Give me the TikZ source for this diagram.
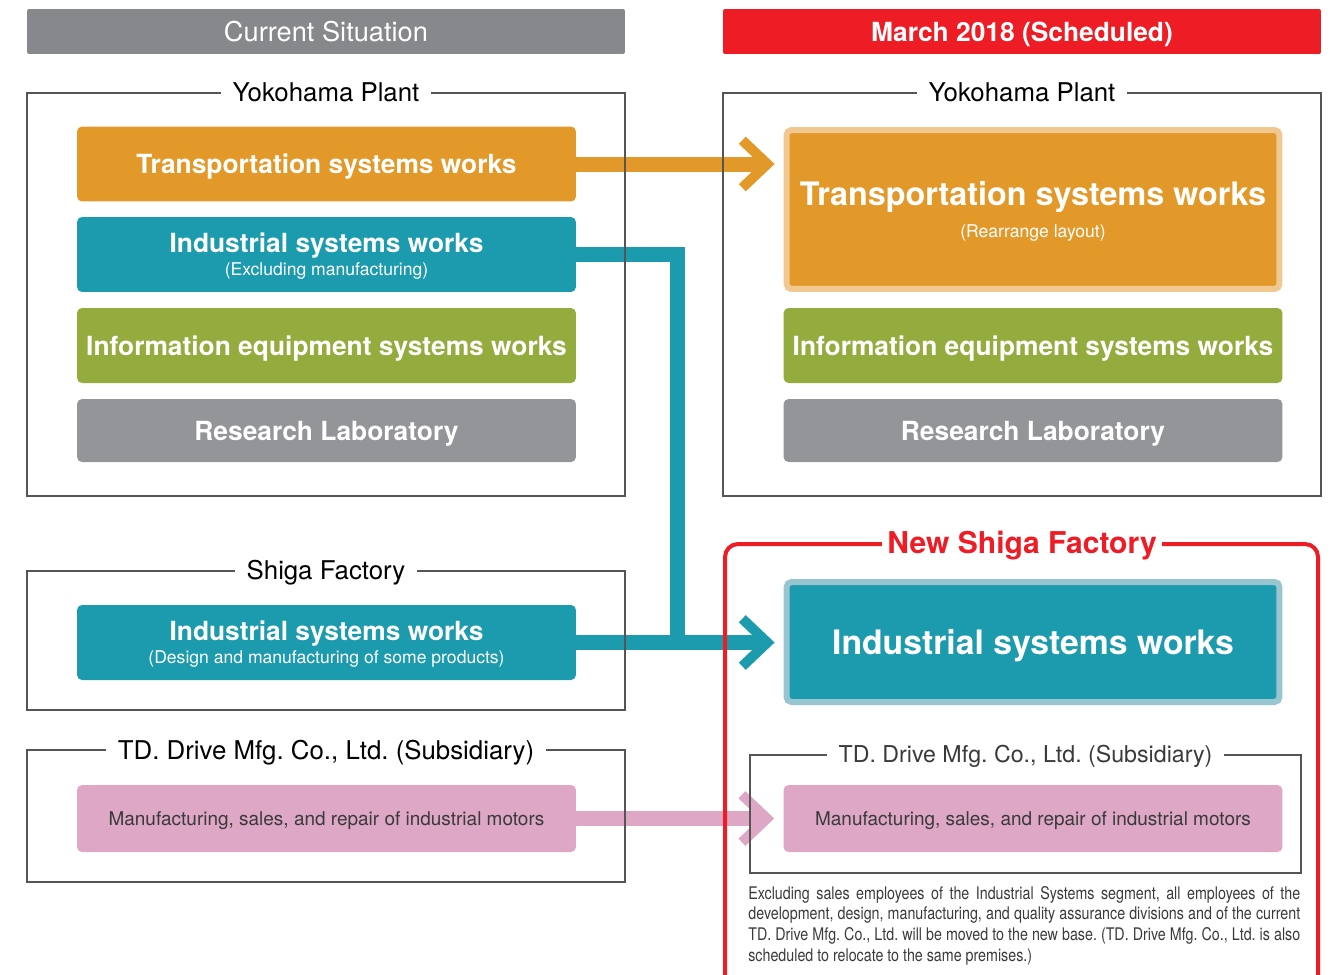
\documentclass[tikz,border=0pt]{standalone}
\usepackage{fontspec}
\setmainfont{TeX Gyre Heros}
\newfontfamily\notefont[FakeStretch=0.82]{TeX Gyre Heros}
\usetikzlibrary{arrows.meta}
\frenchspacing

\definecolor{hdgray}{HTML}{87888B}
\definecolor{hdred}{HTML}{EE1C25}
\definecolor{tsorange}{HTML}{E3992A}
\definecolor{tslight}{HTML}{F1C88F}
\definecolor{isteal}{HTML}{1C9BAE}
\definecolor{islight}{HTML}{98C5D0}
\definecolor{iegreen}{HTML}{94AB3E}
\definecolor{labgray}{HTML}{939598}
\definecolor{tdpink}{HTML}{DDA7C5}
\definecolor{framegray}{HTML}{555555}
\definecolor{darktext}{HTML}{3A3A3A}

\newcommand{\unitnote}[1]{{\fontsize{10}{12}\selectfont\mdseries #1}}

\tikzset{
  unit/.style={rounded corners=0.1cm, inner sep=0pt, minimum width=9.98cm,
    minimum height=1.5cm, text=white, align=center, text depth=0pt,
    font=\fontsize{15}{15.5}\selectfont\bfseries},
  bigunit/.style={unit, line width=0.12cm, minimum width=9.86cm,
    font=\fontsize{18.4}{20}\selectfont\bfseries},
  header/.style={rounded corners=0.04cm, inner sep=0pt, minimum width=11.96cm,
    minimum height=0.9cm, text=white, text depth=0pt},
  frame/.style={draw=framegray, line width=0.6pt},
  frametitle/.style={fill=white, inner xsep=0.24cm, inner ysep=0pt, text depth=0pt,
    font=\fontsize{14.7}{16}\selectfont},
  flow/.style={line width=0.3cm},
  flowarrow/.style={flow, shorten >=0.18cm,
    -{Straight Barb[length=0.5cm, width=0.95cm, line width=0.2cm]}}
}

\begin{document}
\begin{tikzpicture}[x=0.02cm, y=-0.02cm]
\useasboundingbox (0,0) rectangle (1334,974);
\clip (0,0) rectangle (1334,974);

% headers
\node[header, fill=hdgray, font=\fontsize{15.5}{17}\selectfont] (curhd) at (326,31.5) {Current Situation};
\node[header, fill=hdred, font=\fontsize{15}{17}\selectfont\bfseries] (newhd) at (1022,31.5) {March 2018 (Scheduled)};

% units
\node[unit, fill=tsorange] (tsL) at (326.5,164) {Transportation systems works};
\node[unit, fill=isteal] (isL) at (326.5,254.5) {Industrial systems works\\[-2.3pt]\unitnote{(Excluding manufacturing)}};
\node[bigunit, draw=tslight, fill=tsorange, minimum height=3.18cm] (tsR) at (1033,209.5)
  {Transportation systems works\\[-2pt]\unitnote{(Rearrange layout)}};
\foreach \s/\x in {L/326.5,R/1033}
{
  \node[unit, fill=iegreen] (info\s) at (\x,345.5) {Information equipment systems works};
  \node[unit, fill=labgray, minimum height=1.26cm] (lab\s) at (\x,430.5) {Research Laboratory};
}
\node[unit, fill=isteal] (isS) at (326.5,642.5) {Industrial systems works\\[-2.3pt]\unitnote{(Design and manufacturing of some products)}};
\node[bigunit, draw=islight, fill=isteal, minimum height=2.4cm, font=\fontsize{19.2}{21}\selectfont\bfseries] (isR) at (1033,642) {Industrial systems works};
\foreach \s/\x in {L/326.5,R/1033}
{
  \node[unit, fill=tdpink, minimum height=1.34cm, text=darktext, font=\fontsize{10.8}{12}\selectfont] (td\s) at (\x,818.5)
    {Manufacturing, sales, and repair of industrial motors};
}

% flows
\path (677.5,642) coordinate (J);
\draw[flowarrow, tsorange] (tsL.east) -- (tsL.east -| tsR.west);
\draw[flow, isteal] (isL.east) -| (J);
\draw[flowarrow, isteal] (isS.east) -- (isS.east -| isR.west);
\draw[flowarrow, tdpink] (tdL.east) -- (tdR.west);

% frames
\foreach \s/\x in {L/27,R/723}
{
  \draw[frame] (\x,93) rectangle ++(598,403);
  \node[frametitle] (yoko\s) at (\x+299,92) {Yokohama Plant};
}
\draw[frame] (27,571) rectangle (625,710);
\node[frametitle] (shiga) at (326,570) {Shiga Factory};
\draw[frame] (27,750) rectangle (625,882);
\node[frametitle] (tdtitleL) at (326,750) {TD. Drive Mfg. Co., Ltd. (Subsidiary)};
\draw[frame] (750,755) rectangle (1301,873);
\node[frametitle, text=darktext, font=\fontsize{13.2}{15}\selectfont] (tdtitleR) at (1025.5,754) {TD. Drive Mfg. Co., Ltd. (Subsidiary)};

% new factory
\draw[hdred, line width=0.08cm, rounded corners=0.26cm] (725,544) rectangle (1318,1010);
\node[frametitle, text=hdred, inner xsep=0.1cm, font=\fontsize{17.1}{19}\selectfont\bfseries] (newshiga) at (1022,542) {New Shiga Factory};

\node[anchor=north west, inner sep=0pt, text width=11.04cm, align=justify, text=darktext,
  font=\notefont\fontsize{9.9}{11.7}\selectfont] (note) at (748,886)
  {Excluding sales employees of the Industrial Systems segment, all employees of the\linebreak
   development, design, manufacturing, and quality assurance divisions and of the current\linebreak
   TD. Drive Mfg. Co., Ltd. will be moved to the new base. (TD. Drive Mfg. Co., Ltd. is also\linebreak
   scheduled to relocate to the same premises.)};
\end{tikzpicture}
\end{document}
